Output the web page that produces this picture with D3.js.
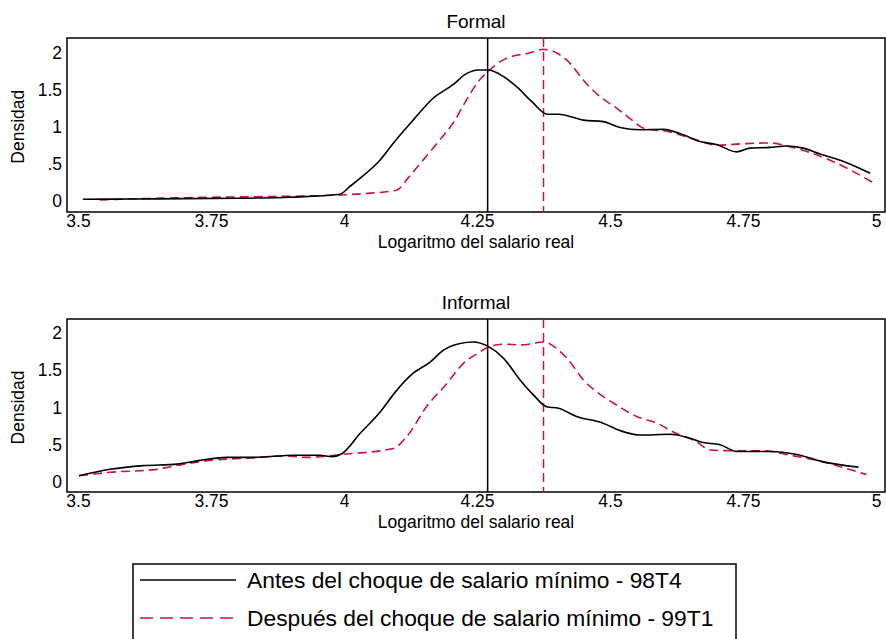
<!DOCTYPE html>
<html lang="es">
<head>
<meta charset="utf-8">
<title>Densidad del salario real</title>
<script src="https://d3js.org/d3.v7.min.js"></script>
<style>
  body { margin: 0; background: #fff; }
  text { font-family: "Liberation Sans", Arial, sans-serif; fill: #000; }
</style>
</head>
<body>
<script>
// Data (log real wage, density)
var formalAntes = [[3.509,0.016],[3.6,0.02],[3.7,0.025],[3.8,0.03],[3.9,0.045],[3.992,0.084],[4.011,0.19],[4.04,0.36],[4.068,0.55],[4.093,0.78],[4.13,1.09],[4.168,1.39],[4.205,1.57],[4.23,1.72],[4.252,1.77],[4.271,1.77],[4.30,1.68],[4.325,1.54],[4.353,1.34],[4.382,1.17],[4.403,1.17],[4.45,1.09],[4.487,1.07],[4.519,0.99],[4.556,0.96],[4.60,0.965],[4.638,0.89],[4.669,0.80],[4.70,0.76],[4.738,0.66],[4.763,0.71],[4.80,0.72],[4.832,0.74],[4.863,0.71],[4.895,0.63],[4.939,0.53],[4.989,0.37]];
var formalDespues = [[3.541,0.007],[3.62,0.025],[3.717,0.04],[3.817,0.05],[3.92,0.06],[3.992,0.075],[4.05,0.1],[4.099,0.14],[4.12,0.3],[4.143,0.50],[4.18,0.82],[4.205,1.05],[4.23,1.36],[4.252,1.61],[4.271,1.75],[4.293,1.88],[4.318,1.96],[4.343,1.99],[4.375,2.05],[4.40,2.00],[4.425,1.86],[4.45,1.63],[4.481,1.41],[4.513,1.25],[4.538,1.11],[4.563,0.98],[4.613,0.93],[4.663,0.82],[4.70,0.75],[4.751,0.77],[4.80,0.78],[4.838,0.73],[4.888,0.62],[4.939,0.46],[4.995,0.24]];
var informalAntes = [[3.502,0.085],[3.56,0.17],[3.623,0.22],[3.686,0.24],[3.729,0.29],[3.78,0.33],[3.83,0.33],[3.905,0.36],[3.955,0.36],[3.977,0.34],[3.996,0.38],[4.03,0.65],[4.068,0.94],[4.099,1.23],[4.13,1.46],[4.162,1.61],[4.187,1.77],[4.218,1.86],[4.243,1.88],[4.271,1.82],[4.30,1.66],[4.331,1.37],[4.356,1.17],[4.381,1.01],[4.403,0.99],[4.437,0.88],[4.487,0.79],[4.519,0.69],[4.556,0.63],[4.613,0.64],[4.644,0.60],[4.675,0.53],[4.707,0.50],[4.738,0.41],[4.80,0.41],[4.851,0.37],[4.901,0.27],[4.967,0.20]];
var informalDespues = [[3.502,0.085],[3.56,0.13],[3.648,0.17],[3.692,0.23],[3.748,0.29],[3.817,0.32],[3.892,0.35],[3.93,0.33],[3.996,0.37],[4.093,0.45],[4.118,0.61],[4.155,1.01],[4.193,1.32],[4.224,1.59],[4.252,1.73],[4.271,1.81],[4.30,1.85],[4.334,1.84],[4.375,1.88],[4.40,1.79],[4.425,1.61],[4.45,1.37],[4.475,1.21],[4.513,1.03],[4.55,0.88],[4.588,0.79],[4.625,0.65],[4.663,0.54],[4.688,0.43],[4.726,0.42],[4.788,0.42],[4.838,0.36],[4.901,0.27],[4.945,0.18],[4.982,0.10]];

var panelTitles = ["Formal", "Informal"];
var xTicks = [3.5, 3.75, 4, 4.25, 4.5, 4.75, 5];
var yTicks = [0, 0.5, 1, 1.5, 2];
var yTickLabels = ["0", ".5", "1", "1.5", "2"];
var meanAntes = 4.27;     // vertical line, before
var meanDespues = 4.375;  // vertical line, after
var legendLabels = ["Antes del choque de salario mínimo - 98T4", "Después del choque de salario mínimo - 99T1"];

var w = 886, h = 639;
var red = "#cc1146";
var dash = "9,5";

var svg = d3.select("body").append("svg")
  .attr("width", w).attr("height", h);

var x = d3.scaleLinear().domain([3.5, 5]).range([78, 876]);

var panels = [
  { title: panelTitles[0], top: 38, bottom: 212, y0: 200.5, y2: 53, antes: formalAntes, despues: formalDespues },
  { title: panelTitles[1], top: 319, bottom: 492, y0: 482, y2: 333, antes: informalAntes, despues: informalDespues }
];

panels.forEach(function(p) {
  var y = d3.scaleLinear().domain([0, 2]).range([p.y0, p.y2]);
  var g = svg.append("g");

  // frame
  g.append("rect")
    .attr("x", 67).attr("y", p.top)
    .attr("width", 885 - 67).attr("height", p.bottom - p.top)
    .attr("fill", "none").attr("stroke", "#000").attr("stroke-width", 1.5);

  // title
  g.append("text")
    .attr("x", 476).attr("y", p.top - 10)
    .attr("text-anchor", "middle").attr("font-size", "19px")
    .text(p.title);

  // x axis (labels only)
  var xAxis = d3.axisBottom(x).tickValues(xTicks).tickSize(0).tickPadding(3)
    .tickFormat(function(d) { return String(d); });
  var xa = g.append("g").attr("transform", "translate(0," + p.bottom + ")").call(xAxis);
  xa.select(".domain").remove();
  xa.selectAll("text").attr("font-size", "17.5px").attr("font-family", "Liberation Sans, Arial, sans-serif");

  // y axis (labels only)
  var yAxis = d3.axisLeft(y).tickValues(yTicks).tickSize(0).tickPadding(5)
    .tickFormat(function(d, i) { return yTickLabels[i]; });
  var ya = g.append("g").attr("transform", "translate(67,0)").call(yAxis);
  ya.select(".domain").remove();
  ya.selectAll("text").attr("font-size", "17.5px").attr("font-family", "Liberation Sans, Arial, sans-serif");

  g.append("text")
    .attr("x", 476).attr("y", p.bottom + 36)
    .attr("text-anchor", "middle").attr("font-size", "17.5px")
    .text("Logaritmo del salario real");

  var cy = (p.y0 + p.y2) / 2;
  g.append("text")
    .attr("transform", "translate(24," + cy + ") rotate(-90)")
    .attr("text-anchor", "middle").attr("font-size", "17.5px")
    .text("Densidad");

  // vertical reference lines
  g.append("line")
    .attr("x1", x(meanAntes)).attr("x2", x(meanAntes))
    .attr("y1", p.top).attr("y2", p.bottom)
    .attr("stroke", "#000").attr("stroke-width", 1.5);
  g.append("line")
    .attr("x1", x(meanDespues)).attr("x2", x(meanDespues))
    .attr("y1", p.top).attr("y2", p.bottom)
    .attr("stroke", red).attr("stroke-width", 1.5).attr("stroke-dasharray", dash);

  var line = d3.line()
    .x(function(d) { return x(d[0]); })
    .y(function(d) { return y(d[1]); })
    .curve(d3.curveMonotoneX);

  g.append("path").datum(p.despues)
    .attr("d", line).attr("fill", "none")
    .attr("stroke", red).attr("stroke-width", 1.6).attr("stroke-dasharray", dash);
  g.append("path").datum(p.antes)
    .attr("d", line).attr("fill", "none")
    .attr("stroke", "#000").attr("stroke-width", 1.6);
});

// legend
var lg = svg.append("g");
lg.append("rect")
  .attr("x", 133).attr("y", 564).attr("width", 736 - 133).attr("height", 90)
  .attr("fill", "none").attr("stroke", "#000").attr("stroke-width", 1.5);

var legendStyles = [{ stroke: "#000", dash: null }, { stroke: red, dash: "13,7" }];
legendLabels.forEach(function(lab, i) {
  var ly = 580 + i * 38;
  lg.append("line")
    .attr("x1", 140).attr("x2", 236).attr("y1", ly).attr("y2", ly)
    .attr("stroke", legendStyles[i].stroke).attr("stroke-width", 1.6)
    .attr("stroke-dasharray", legendStyles[i].dash);
  lg.append("text")
    .attr("x", 247).attr("y", ly + 8)
    .attr("font-size", "22.8px")
    .text(lab);
});
</script>
</body>
</html>
